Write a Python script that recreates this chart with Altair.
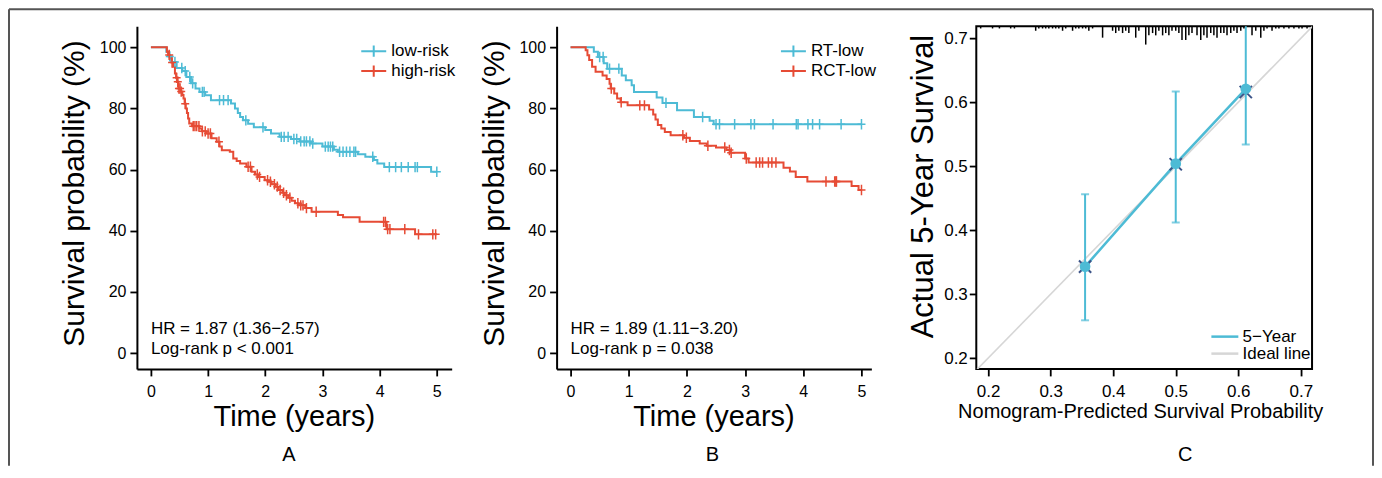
import altair as alt
import pandas as pd
import numpy as np

# ---------------------------------------------------------------- data
# Panel A (risk groups) : Kaplan-Meier step points (time in years, survival %)
A_GROUPS = ["low-risk", "high-risk"]
A_LOW_T = [0, 0.27, 0.31, 0.36, 0.45, 0.55, 0.62, 0.70, 0.78, 0.85, 0.95, 1.05, 1.40, 1.47,
           1.52, 1.56, 1.61, 1.70, 1.80, 2.00, 2.10, 2.25, 2.45, 2.60, 2.80, 3.00, 3.20, 3.27,
           3.62, 3.75, 3.90, 3.96, 4.08, 4.90, 5.00]
A_LOW_S = [100, 98.5, 97.0, 95.2, 93.2, 92.2, 90.3, 88.2, 86.5, 85.4, 84.3, 82.7, 81.6, 80.0,
           78.5, 77.2, 76.1, 75.0, 73.8, 72.9, 71.8, 70.7, 70.0, 69.2, 68.5, 67.5, 66.5, 65.8,
           65.0, 64.2, 63.1, 62.0, 60.8, 59.3, 59.3]
A_LOW_CENS = [0.33, 0.42, 0.54, 0.60, 0.68, 0.73, 0.90, 0.93, 1.20, 1.27, 1.35, 1.66, 1.96,
              2.28, 2.33, 2.40, 2.50, 2.55, 2.62, 2.68, 2.72, 2.78, 2.83, 3.05, 3.10, 3.14,
              3.18, 3.30, 3.36, 3.42, 3.48, 3.55, 3.58, 3.88, 4.17, 4.28, 4.38, 4.50, 4.62,
              4.66, 5.00]
A_HIGH_T = [0, 0.28, 0.30, 0.33, 0.36, 0.39, 0.42, 0.44, 0.46, 0.48, 0.52, 0.55, 0.57, 0.59,
            0.61, 0.63, 0.65, 0.67, 0.72, 0.85, 0.89, 0.97, 1.06, 1.15, 1.20, 1.24, 1.38, 1.44,
            1.50, 1.56, 1.67, 1.76, 1.82, 1.88, 1.99, 2.06, 2.11, 2.18, 2.23, 2.30, 2.34, 2.40,
            2.46, 2.52, 2.58, 2.70, 2.81, 3.27, 3.36, 3.65, 4.12, 4.62, 5.00]
A_HIGH_S = [100, 98.5, 97.5, 96.3, 95.0, 93.6, 91.4, 90.0, 88.7, 86.5, 85.5, 84.4, 83.2, 81.5,
            80.0, 78.5, 76.7, 75.1, 74.2, 73.4, 72.5, 71.8, 70.2, 69.1, 67.5, 66.3, 65.8, 63.6,
            62.8, 62.0, 60.9, 59.3, 58.4, 57.6, 56.5, 56.0, 55.2, 54.4, 53.3, 52.4, 51.6, 50.8,
            49.8, 49.0, 48.3, 47.4, 46.2, 45.1, 44.4, 42.9, 40.5, 38.8, 38.8]
A_HIGH_CENS = [0.32, 0.37, 0.45, 0.47, 0.49, 0.51, 0.53, 0.60, 0.74, 0.77, 0.80, 0.84, 0.90,
               0.95, 1.00, 1.04, 1.19, 1.70, 1.74, 1.86, 1.90, 2.04, 2.09, 2.16, 2.21, 2.26,
               2.32, 2.37, 2.43, 2.57, 2.62, 2.66, 2.72, 2.89, 4.07, 4.10, 4.14, 4.18, 4.44,
               4.68, 4.93, 4.98]
A_HR_TEXT = ["HR = 1.87 (1.36\u22122.57)", "Log-rank p < 0.001"]

# Panel B (treatment in low-risk group)
B_GROUPS = ["RT-low", "RCT-low"]
B_RT_T = [0, 0.40, 0.47, 0.57, 0.63, 0.88, 0.95, 1.05, 1.09, 1.48, 1.58, 1.83, 2.12, 2.39,
          2.46, 5.00]
B_RT_S = [100, 98.5, 96.8, 94.8, 93.0, 90.8, 89.2, 87.6, 85.4, 83.6, 81.8, 79.4, 77.2, 76.0,
          74.8, 74.8]
B_RT_CENS = [0.50, 0.56, 0.67, 0.83, 1.64, 2.27, 2.50, 2.56, 2.82, 3.10, 3.16, 3.48, 3.88,
             3.91, 4.08, 4.16, 4.28, 4.65, 5.00]
B_RCT_T = [0, 0.26, 0.29, 0.32, 0.37, 0.43, 0.55, 0.62, 0.67, 0.69, 0.75, 0.80, 0.86, 0.98,
           1.35, 1.42, 1.46, 1.50, 1.56, 1.62, 1.72, 1.95, 2.05, 2.22, 2.34, 2.50, 2.68, 2.75,
           3.00, 3.06, 3.66, 3.77, 3.87, 4.07, 4.83, 4.95, 5.00]
B_RCT_S = [100, 99.0, 97.4, 95.8, 93.6, 92.0, 90.8, 89.6, 88.1, 86.5, 84.9, 83.2, 82.0, 81.0,
           79.6, 78.0, 76.4, 74.6, 73.4, 72.3, 71.2, 70.4, 69.3, 68.5, 67.8, 67.2, 66.4, 65.5,
           63.6, 62.3, 60.6, 59.4, 57.6, 56.1, 54.6, 53.3, 53.3]
B_RCT_CENS = [0.70, 0.87, 1.19, 1.27, 1.93, 1.99, 2.36, 2.65, 2.73, 2.76, 3.02, 3.19, 3.25,
              3.30, 3.40, 3.46, 3.53, 4.39, 4.54, 4.56, 4.57, 5.00]
B_HR_TEXT = ["HR = 1.89 (1.11\u22123.20)", "Log-rank p = 0.038"]

KM_X_TICKS = [0, 1, 2, 3, 4, 5]
KM_Y_TICKS = [0, 20, 40, 60, 80, 100]

# Panel C (calibration)
C_PRED = [0.355, 0.500, 0.612]
C_OBS = [0.343, 0.504, 0.621]
C_LOWER = [0.259, 0.412, 0.534]
C_UPPER = [0.456, 0.617, 0.760]
C_CORRECTED = [0.343, 0.503, 0.616]
C_IDEAL = [0.18, 0.72]
C_SERIES = ["5\u2212Year", "Ideal line"]
C_TICKS = [0.2, 0.3, 0.4, 0.5, 0.6, 0.7]
RUG_PRED = [0.188, 0.207, 0.218, 0.236, 0.242, 0.276, 0.281, 0.287, 0.292, 0.297, 0.303,
            0.308, 0.313, 0.319, 0.324, 0.335, 0.340, 0.345, 0.351, 0.356, 0.361, 0.367,
            0.383, 0.399, 0.404, 0.409, 0.415, 0.420, 0.425, 0.436, 0.441, 0.452, 0.457,
            0.463, 0.468, 0.473, 0.479, 0.484, 0.489, 0.494, 0.500, 0.505, 0.510, 0.516,
            0.521, 0.526, 0.534, 0.540, 0.545, 0.550, 0.556, 0.561, 0.566, 0.572, 0.577,
            0.582, 0.588, 0.593, 0.598, 0.604, 0.609, 0.622, 0.628, 0.636, 0.641, 0.646,
            0.654, 0.660, 0.665, 0.673, 0.681, 0.689, 0.697, 0.702, 0.710]
RUG_COUNT = [1, 1, 1, 1, 1, 2, 1, 1, 1, 1, 1,
             1, 1, 2, 1, 2, 1, 1, 1, 1, 2, 1,
             5, 2, 3, 2, 3, 2, 3, 5, 2, 8, 4,
             3, 4, 2, 4, 3, 4, 2, 2, 3, 6, 6,
             4, 3, 4, 6, 4, 5, 3, 4, 5, 3, 3,
             4, 3, 2, 3, 2, 1, 4, 2, 5, 2, 1,
             2, 1, 1, 1, 1, 1, 1, 1, 1]

# ---------------------------------------------------------------- styling
FONT = "Liberation Sans"
CYAN = "#4DBBD5"
RED = "#E64B35"
NAVY = "#3C5488"
IDEAL_GREY = "#D6D6D6"
FRAME = "#555555"

KM_W, KM_H = 315, 343
C_W, C_H = 336, 343
KM_Y_DOMAIN = [-5.2, 106.9]
A_X_DOMAIN = [-0.245, 5.26]
B_X_DOMAIN = [-0.24, 5.17]
C_X_DOMAIN = [0.181, 0.718]
C_Y_DOMAIN = [0.183, 0.719]
RUG_UNIT = 0.0036

CENSOR_SHAPE = "M-1,0H1M0,-1.3V1.3"
LEGEND_SHAPE = "M-2,0H2M0,-0.9V0.9"
LEGEND_LINE = "M-2,0H2"


def steps_frame(groups, ts, ss):
    rows = []
    for g, t, s in zip(groups, ts, ss):
        rows += [{"group": g, "t": a, "S": b} for a, b in zip(t, s)]
    return pd.DataFrame(rows)


def cens_frame(groups, ts, ss, cs):
    rows = []
    for g, t, s, c in zip(groups, ts, ss, cs):
        t = np.asarray(t)
        s = np.asarray(s)
        for ct in c:
            i = int(np.searchsorted(t, ct, side="right")) - 1
            rows.append({"group": g, "t": ct, "S": float(s[i])})
    return pd.DataFrame(rows)


def km_panel(groups, ts, ss, cs, x_domain, hr_text, letter, letter_x, frame=False):
    steps = steps_frame(groups, ts, ss)
    cens = cens_frame(groups, ts, ss, cs)
    xs = alt.Scale(domain=x_domain, nice=False, zero=False)
    ys = alt.Scale(domain=KM_Y_DOMAIN, nice=False, zero=False)
    cscale = alt.Scale(domain=groups, range=[CYAN, RED])
    xaxis = alt.Axis(values=KM_X_TICKS, format="d", title="Time (years)",
                     titleFontSize=29, titleX=157, titleY=48, titleBaseline="middle",
                     titleAlign="center", labelFontSize=16, labelPadding=8)
    yaxis = alt.Axis(values=KM_Y_TICKS, format="d", title="Survival probability (%)",
                     titleFontSize=30, titleX=-62, titleY=167, titleBaseline="middle",
                     titleAlign="center", titleAngle=-90, labelFontSize=16, labelPadding=4)
    legend = alt.Legend(orient="none", legendX=228.5, legendY=16.5, title=None,
                        symbolType=LEGEND_SHAPE, symbolSize=156, symbolStrokeWidth=2,
                        symbolFillColor="transparent", labelFontSize=17, labelOffset=9,
                        rowPadding=-1, padding=0, labelColor="black")
    line = alt.Chart(steps).mark_line(interpolate="step-after", strokeWidth=2).encode(
        x=alt.X("t:Q", scale=xs, axis=xaxis),
        y=alt.Y("S:Q", scale=ys, axis=yaxis),
        color=alt.Color("group:N", scale=cscale, legend=legend),
    )
    marks = alt.Chart(cens).mark_point(shape=CENSOR_SHAPE, filled=False, size=64,
                                       strokeWidth=1.5, opacity=1).encode(
        x="t:Q", y="S:Q",
        color=alt.Color("group:N", scale=cscale, legend=None),
    )
    one = pd.DataFrame({"k": [0]})
    hr = alt.Chart(one).mark_text(text=hr_text, align="left", baseline="top", fontSize=17,
                                  lineHeight=20, font=FONT, color="black").encode(
        x=alt.value(14), y=alt.value(295))
    lab = alt.Chart(one).mark_text(text=letter, fontSize=20, font=FONT, color="black",
                                   baseline="middle", align="center").encode(
        x=alt.value(letter_x), y=alt.value(429))
    layers = [line, marks, hr, lab]
    if frame:
        fl = alt.Chart(one).mark_rule(color=FRAME, strokeWidth=2)
        layers += [
            fl.encode(x=alt.value(-128), y=alt.value(-17), y2=alt.value(440)),
            fl.encode(x=alt.value(-128), x2=alt.value(1237), y=alt.value(-17)),
            fl.encode(x=alt.value(1237), y=alt.value(-17), y2=alt.value(440)),
        ]
    return alt.layer(*layers).properties(width=KM_W, height=KM_H)


panel_a = km_panel(A_GROUPS, [A_LOW_T, A_HIGH_T], [A_LOW_S, A_HIGH_S],
                   [A_LOW_CENS, A_HIGH_CENS], A_X_DOMAIN, A_HR_TEXT, "A", 152, frame=True)
panel_b = km_panel(B_GROUPS, [B_RT_T, B_RCT_T], [B_RT_S, B_RCT_S],
                   [B_RT_CENS, B_RCT_CENS], B_X_DOMAIN, B_HR_TEXT, "B", 156)

# ---------------------------------------------------------------- panel C
cx = alt.Scale(domain=C_X_DOMAIN, nice=False, zero=False)
cy = alt.Scale(domain=C_Y_DOMAIN, nice=False, zero=False)
c_xaxis = alt.Axis(values=C_TICKS, format=".1f",
                   title="Nomogram-Predicted Survival Probability", titleFontSize=20,
                   titleX=164, titleY=43, titleBaseline="middle", titleAlign="center",
                   labelFontSize=17, labelPadding=8, domain=False)
c_yaxis = alt.Axis(values=C_TICKS, format=".1f", title="Actual 5-Year Survival",
                   titleFontSize=31, titleX=-53, titleY=160, titleBaseline="middle",
                   titleAlign="center", titleAngle=-90, labelFontSize=17, labelPadding=2,
                   domain=False)
c_color = alt.Scale(domain=C_SERIES, range=[CYAN, IDEAL_GREY])
c_legend = alt.Legend(orient="none", legendX=240.25, legendY=302.2, title=None,
                      symbolType=LEGEND_LINE, symbolSize=182, symbolStrokeWidth=2.5,
                      symbolFillColor="transparent", labelFontSize=17, labelOffset=9.25,
                      rowPadding=-1.4, padding=0, labelColor="black")

ideal_df = pd.DataFrame({"pred": C_IDEAL, "obs": C_IDEAL, "series": C_SERIES[1]})
calib_df = pd.DataFrame({"pred": C_PRED, "obs": C_OBS, "lower": C_LOWER, "upper": C_UPPER,
                         "corrected": C_CORRECTED, "series": C_SERIES[0]})
rug_df = pd.DataFrame({"pred": RUG_PRED, "count": RUG_COUNT})
rug_df["top"] = C_Y_DOMAIN[1]
rug_df["bottom"] = C_Y_DOMAIN[1] - rug_df["count"] * RUG_UNIT

ideal = alt.Chart(ideal_df).mark_line(strokeWidth=1.6, clip=True).encode(
    x=alt.X("pred:Q", scale=cx, axis=c_xaxis),
    y=alt.Y("obs:Q", scale=cy, axis=c_yaxis),
    color=alt.Color("series:N", scale=c_color, legend=c_legend),
)
bars = alt.Chart(calib_df).mark_rule(color=CYAN, strokeWidth=2, clip=True).encode(
    x="pred:Q", y="lower:Q", y2="upper:Q")
caps = alt.Chart(calib_df).transform_fold(["lower", "upper"], as_=["end", "v"]).mark_tick(
    color=CYAN, orient="horizontal", size=8, thickness=2, clip=True).encode(
    x="pred:Q", y="v:Q")
calib = alt.Chart(calib_df).mark_line(strokeWidth=2.5).encode(
    x="pred:Q", y="obs:Q",
    color=alt.Color("series:N", scale=c_color, legend=c_legend))
xmarks = alt.Chart(calib_df).mark_point(shape="M-1,-1L1,1M-1,1L1,-1", filled=False,
                                        size=150, strokeWidth=2, color=NAVY,
                                        opacity=1).encode(x="pred:Q", y="corrected:Q")
dots = alt.Chart(calib_df).mark_circle(size=115, color=CYAN, opacity=1).encode(
    x="pred:Q", y="obs:Q")
rug = alt.Chart(rug_df).mark_rule(color="black", strokeWidth=1.5).encode(
    x="pred:Q", y="top:Q", y2="bottom:Q")
lab_c = alt.Chart(pd.DataFrame({"k": [0]})).mark_text(
    text="C", fontSize=20, font=FONT, color="black", baseline="middle", align="center"
).encode(x=alt.value(209), y=alt.value(429))

panel_c = alt.layer(ideal, bars, caps, calib, xmarks, dots, rug, lab_c).properties(
    width=C_W, height=C_H, view=alt.ViewBackground(stroke="black", strokeWidth=2))

chart = alt.hconcat(panel_a, panel_b, panel_c, spacing=105, bounds="flush").resolve_scale(
    color="independent").resolve_legend(color="independent").properties(
    padding=0, background="white"
).configure_view(stroke=None).configure_axis(
    labelFont=FONT, titleFont=FONT, labelColor="black", titleColor="black",
    titleFontWeight="normal", domainColor="black", tickColor="black", domainWidth=2,
    tickWidth=1.8, tickSize=7, grid=False
).configure_legend(labelFont=FONT).configure_text(font=FONT)

chart.save("out.html", embed_options={"renderer": "svg", "actions": False})
